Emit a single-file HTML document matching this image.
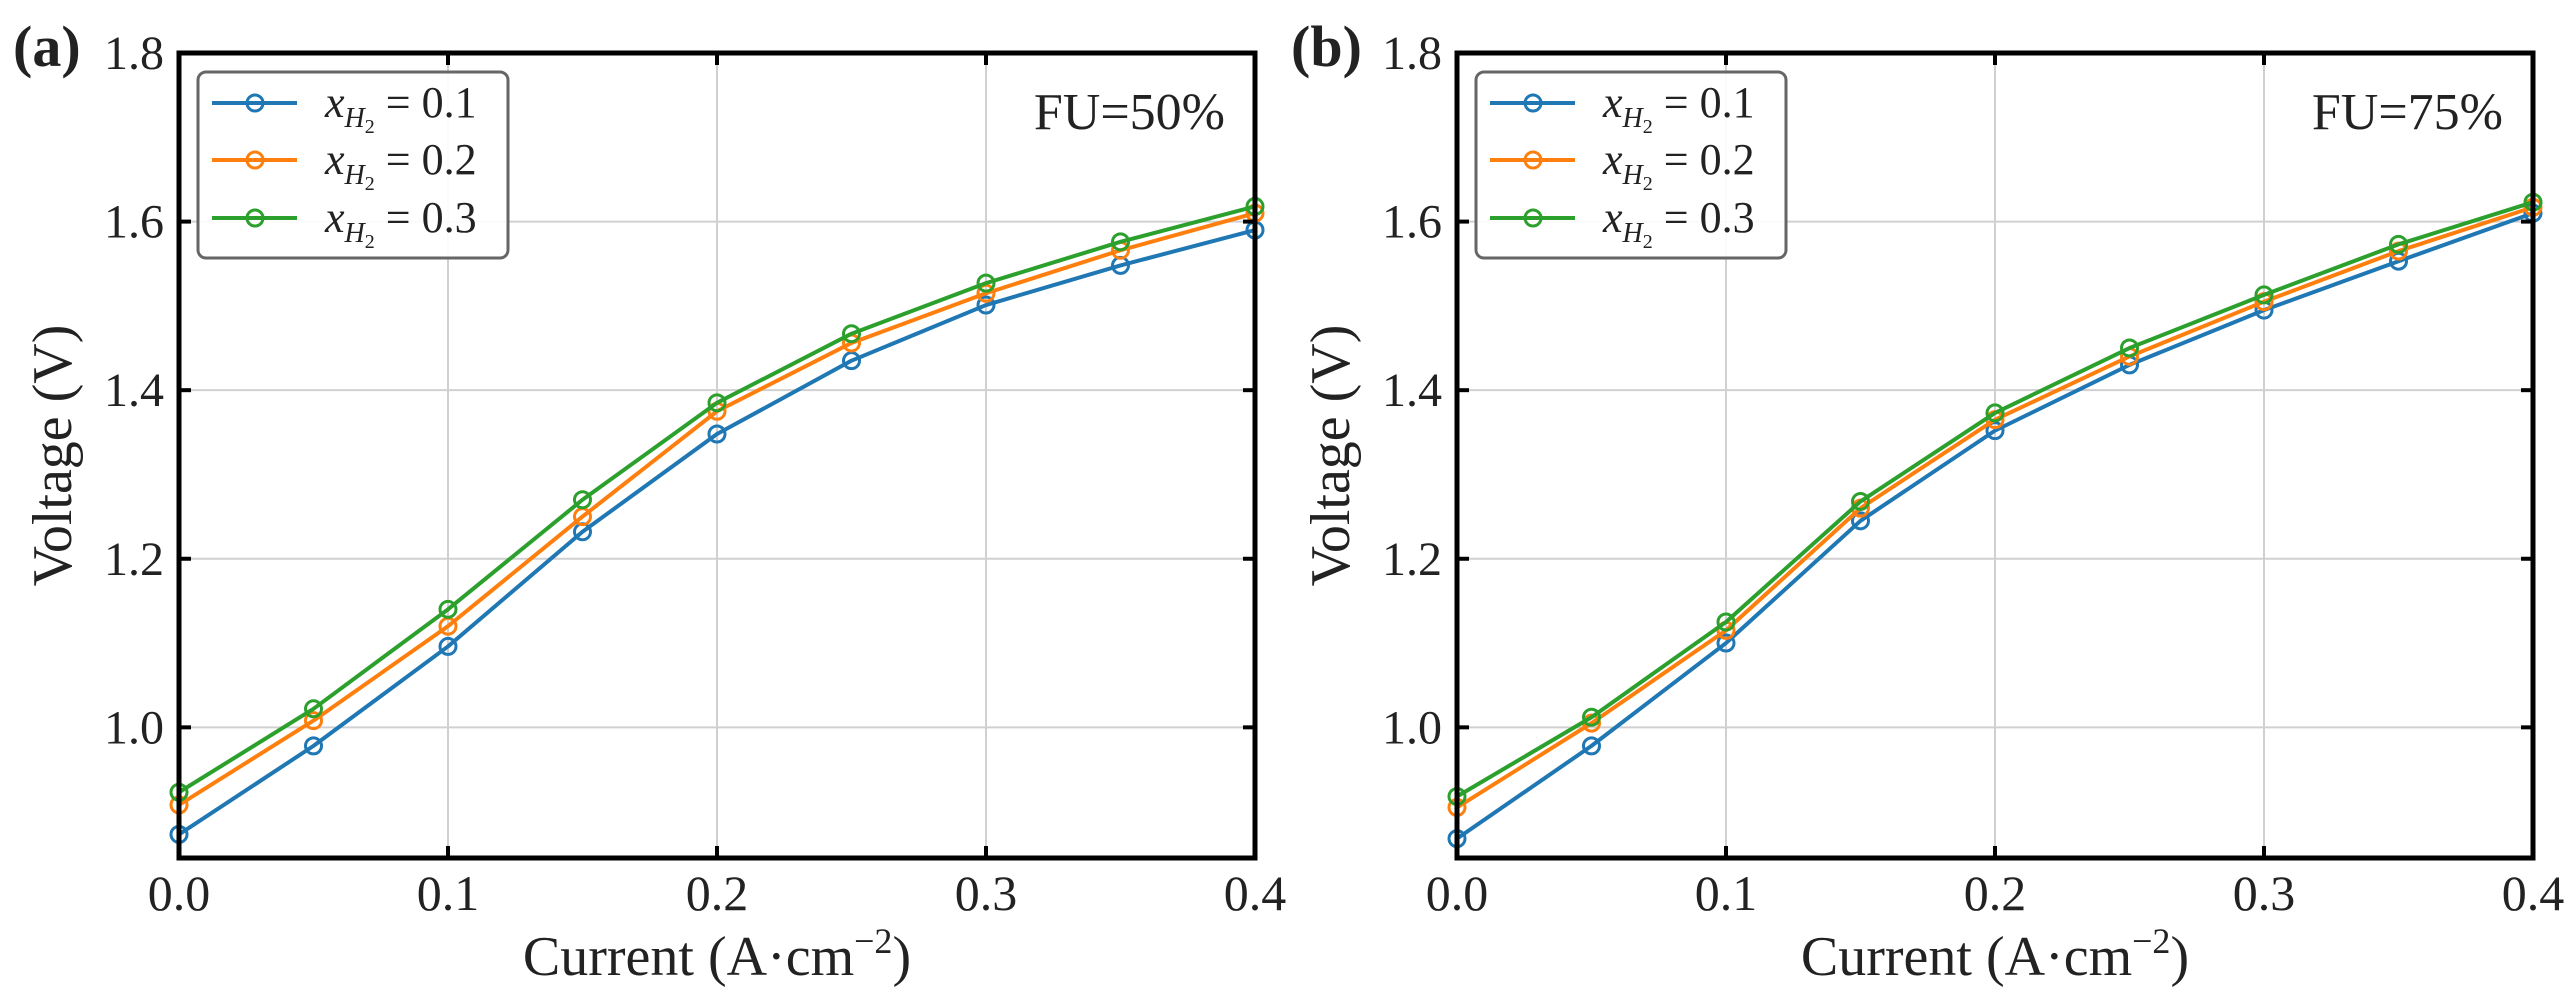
<!DOCTYPE html>
<html><head><meta charset="utf-8">
<style>
html,body{margin:0;padding:0;background:#fff;}
svg{display:block;}
text{font-family:"Liberation Serif",serif;fill:#222;}
</style></head>
<body>
<svg id="chart" width="2576" height="987" viewBox="0 0 2576 987" xmlns="http://www.w3.org/2000/svg"></svg>
<script>
const xValues = [0, 0.05, 0.1, 0.15, 0.2, 0.25, 0.3, 0.35, 0.4];
const xTicks = [0, 0.1, 0.2, 0.3, 0.4];
const xTickLabels = ["0.0", "0.1", "0.2", "0.3", "0.4"];
const yTicks = [1.0, 1.2, 1.4, 1.6, 1.8];
const yTickLabels = ["1.0", "1.2", "1.4", "1.6", "1.8"];
const seriesNames = ["0.1", "0.2", "0.3"];
const panelLabels = ["(a)", "(b)"];
const panelNotes = ["FU=50%", "FU=75%"];
const aBlue = [0.873, 0.978, 1.096, 1.232, 1.348, 1.435, 1.501, 1.548, 1.590];
const aOrange = [0.908, 1.008, 1.120, 1.250, 1.375, 1.456, 1.515, 1.566, 1.610];
const aGreen = [0.923, 1.022, 1.140, 1.270, 1.385, 1.467, 1.527, 1.576, 1.618];
const bBlue = [0.868, 0.978, 1.100, 1.245, 1.352, 1.430, 1.495, 1.553, 1.610];
const bOrange = [0.905, 1.005, 1.115, 1.260, 1.365, 1.440, 1.505, 1.565, 1.617];
const bGreen = [0.918, 1.012, 1.125, 1.268, 1.373, 1.450, 1.513, 1.573, 1.623];

const NS = "http://www.w3.org/2000/svg";
const svg = document.getElementById("chart");
const colors = ["#1f77b4", "#ff7f0e", "#2ca02c"];
const panels = [
  {left:179, series:[aBlue, aOrange, aGreen]},
  {left:1457, series:[bBlue, bOrange, bGreen]}
];
const plotTop = 53, plotBottom = 858, W = 1076;
const xMin = 0, xMax = 0.4, yMin = 0.845, yMax = 1.8;

function mk(tag, attrs, parent){
  const e = document.createElementNS(NS, tag);
  for (const k in attrs) e.setAttribute(k, attrs[k]);
  (parent || svg).appendChild(e);
  return e;
}

panels.forEach((p, pi) => {
  const L = p.left, R = L + W;
  const sx = v => L + (v - xMin) / (xMax - xMin) * W;
  const sy = v => plotBottom - (v - yMin) / (yMax - yMin) * (plotBottom - plotTop);
  const g = mk("g", {});
  
  

  xTicks.forEach(t => {
    const l = mk("line", {x1:sx(t), x2:sx(t), y1:plotTop, y2:plotBottom, stroke:"#d0d0d0", "stroke-width":2}, g);
    
    
  });
  yTicks.forEach(t => {
    const l = mk("line", {x1:L, x2:R, y1:sy(t), y2:sy(t), stroke:"#d0d0d0", "stroke-width":2}, g);
    
    
  });

  p.series.forEach((vals, si) => {
    const pts = vals.map((v, i) => sx(xValues[i]) + "," + sy(v)).join(" ");
    const pl = mk("polyline", {points:pts, fill:"none", stroke:colors[si], "stroke-width":4, "stroke-linejoin":"round"}, g);
    
    
    vals.forEach((v, i) => {
      const c = mk("circle", {cx:sx(xValues[i]), cy:sy(v), r:8, fill:"none", stroke:colors[si], "stroke-width":3}, g);
      
      
    });
  });

  const fr = mk("rect", {x:L, y:plotTop, width:W, height:plotBottom-plotTop, fill:"none", stroke:"#000", "stroke-width":5}, g);
  
  

  xTicks.forEach((t, i) => {
    mk("line", {x1:sx(t), x2:sx(t), y1:plotBottom, y2:plotBottom-12, stroke:"#000", "stroke-width":4}, g);
    mk("line", {x1:sx(t), x2:sx(t), y1:plotTop, y2:plotTop+12, stroke:"#000", "stroke-width":4}, g);
    const tx = mk("text", {x:sx(t), y:910, "font-size":50, "text-anchor":"middle"}, g);
    tx.textContent = xTickLabels[i];
    
    
  });
  yTicks.forEach((t, i) => {
    mk("line", {x1:L, x2:L+12, y1:sy(t), y2:sy(t), stroke:"#000", "stroke-width":4}, g);
    mk("line", {x1:R, x2:R-12, y1:sy(t), y2:sy(t), stroke:"#000", "stroke-width":4}, g);
    const ty = mk("text", {x:L-15, y:sy(t)+16, "font-size":48, "text-anchor":"end"}, g);
    ty.textContent = yTickLabels[i];
    
    
  });

  const xt = mk("text", {x:L + W/2, y:975, "font-size":56, "text-anchor":"middle"}, g);
  xt.innerHTML = 'Current (A·cm<tspan dy="-22" font-size="36">−2</tspan><tspan dy="22">)</tspan>';
  
  
  const yt = mk("text", {x:0, y:0, "font-size":56, "text-anchor":"middle", transform:"translate(" + (L-108) + "," + ((plotTop+plotBottom)/2) + ") rotate(-90)"}, g);
  yt.textContent = "Voltage (V)";
  
  

  const plb = mk("text", {x:L-166, y:66, "font-size":58, "font-weight":"bold"}, g);
  plb.textContent = panelLabels[pi];
  
  

  const nt = mk("text", {x:R-30, y:129, "font-size":52, "text-anchor":"end"}, g);
  nt.textContent = panelNotes[pi];
  
  

  const lg = mk("g", {}, g);
  
  
  const lb = mk("rect", {x:L+19, y:72, width:310, height:186, rx:8, fill:"#fff", "fill-opacity":0.9, stroke:"#666", "stroke-width":3}, lg);
  
  
  const rows = [103, 160, 218];
  seriesNames.forEach((n, si) => {
    const e = mk("g", {}, lg);
    
    
    mk("line", {x1:L+33, x2:L+118, y1:rows[si], y2:rows[si], stroke:colors[si], "stroke-width":4}, e);
    mk("circle", {cx:L+76, cy:rows[si], r:8, fill:"none", stroke:colors[si], "stroke-width":3}, e);
    const t = mk("text", {x:L+146, y:rows[si]+14, "font-size":44, fill:"#333"}, e);
    t.innerHTML = '<tspan font-style="italic">x</tspan><tspan dy="10" font-size="28" font-style="italic">H</tspan><tspan dy="6" font-size="20">2</tspan><tspan dy="-16"> = ' + n + '</tspan>';
  });
});
</script>
</body></html>
